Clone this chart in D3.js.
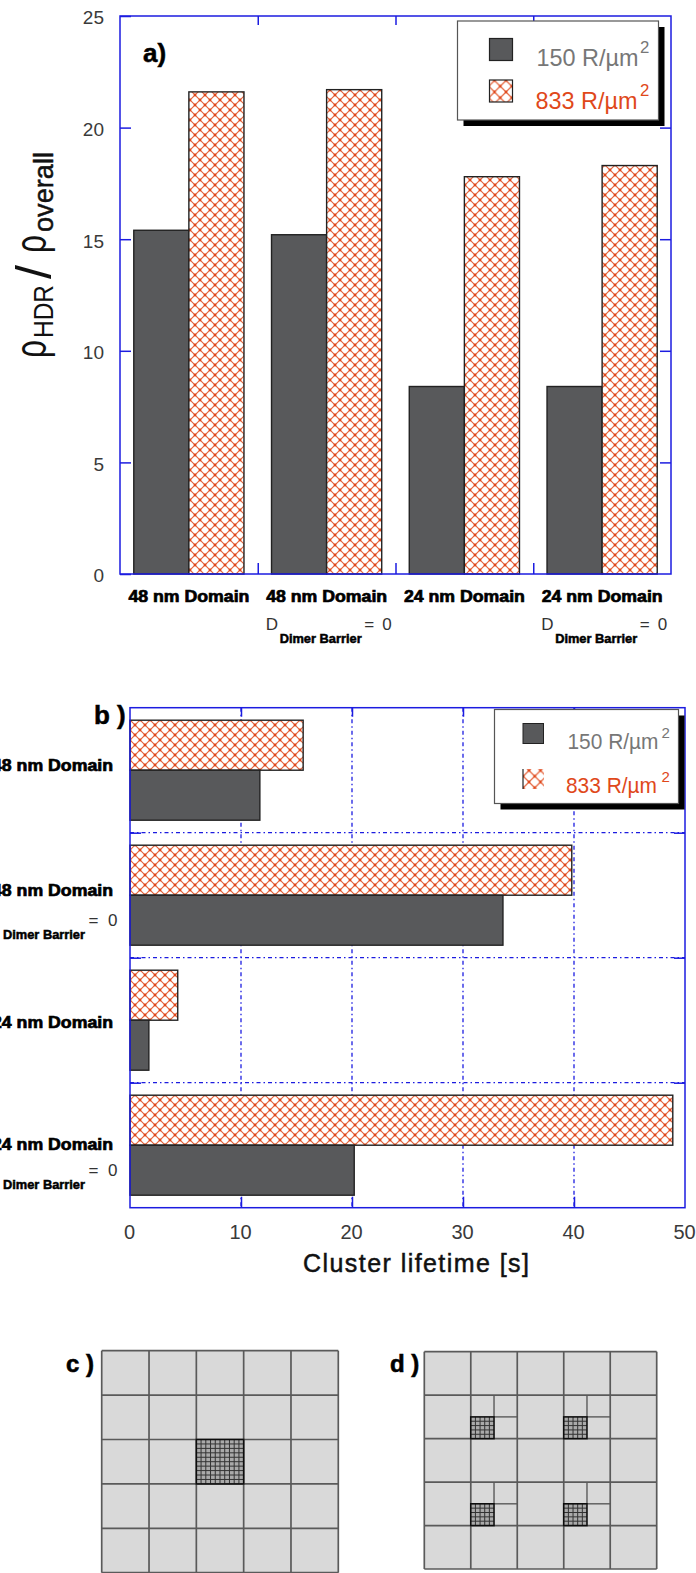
<!DOCTYPE html>
<html><head><meta charset="utf-8">
<script src="https://cdn.jsdelivr.net/npm/d3@7"></script>
<style>
html,body{margin:0;padding:0;background:#fff;overflow:hidden}
svg{display:block}
text{font-family:"Liberation Sans",Arial,sans-serif}
</style></head><body>
<div id="chart"></div>
<script>
// ---------- data ----------
const categories = ["48 nm Domain","48 nm Domain","24 nm Domain","24 nm Domain"];
const dimerFlags = [false,true,false,true];
const densityA150 = [15.4,15.2,8.4,8.4];
const densityA833 = [21.6,21.7,17.8,18.3];
const lifetime150 = [11.7,33.6,1.7,20.2];
const lifetime833 = [15.6,39.8,4.3,48.9];
const yTicksA = [0,5,10,15,20,25];
const xTicksB = [0,10,20,30,40,50];
const legendLabels = ["150 R/\u00b5m","833 R/\u00b5m"];
const labelShiftB = [0,0,7,4];
const fineCellsC = [[2,2]];
const fineCellsD = [[1,1],[3,1],[1,3],[3,3]];

// ---------- setup ----------
const W=696,H=1573;
const BLUE="#1c1ce0",DARK="#58595b",RED="#e0481a",INK="#222";
const svg=d3.select("#chart").append("svg").attr("width",W).attr("height",H).attr("viewBox",`0 0 ${W} ${H}`);
const defs=svg.append("defs");
function hatch(id,p){
  const pat=defs.append("pattern").attr("id",id).attr("patternUnits","userSpaceOnUse").attr("width",p).attr("height",p);
  pat.append("rect").attr("width",p).attr("height",p).attr("fill","#fff");
  pat.append("path").attr("d",`M0,0L${p},${p}M0,${p}L${p},0`).attr("stroke",RED).attr("stroke-width",1.2).attr("stroke-opacity",0.85).attr("fill","none");
  [[0,0],[p,0],[0,p],[p,p],[p/2,p/2]].forEach(c=>pat.append("circle").attr("cx",c[0]).attr("cy",c[1]).attr("r",1.4).attr("fill",RED));
}
hatch("hatch",10);
hatch("hatchL",11.5);
defs.append("filter").attr("id","soft").append("feGaussianBlur").attr("stdDeviation",0.5);

function styleAxis(g){
  g.select(".domain").remove();
  g.selectAll(".tick line").attr("stroke",BLUE).attr("stroke-width",1.5);
  g.selectAll(".tick text").attr("fill","#3a3a3a").attr("font-size",19).attr("font-family","Liberation Sans");
}
function legend(g,o){
  g.append("rect").attr("x",o.x+6).attr("y",o.y+6).attr("width",o.w).attr("height",o.h).attr("fill","#000");
  g.append("rect").attr("x",o.x).attr("y",o.y).attr("width",o.w).attr("height",o.h).attr("fill","#fff").attr("stroke","#555").attr("stroke-width",1.2);
  const t=(x,y,s,c,fs,tl)=>{const e=g.append("text").attr("x",x).attr("y",y).attr("fill",c).attr("font-size",fs).text(s);if(tl)e.attr("textLength",tl).attr("lengthAdjust","spacingAndGlyphs");return e;};
  t(o.tx[0],o.by[0],legendLabels[0],"#777",o.fs,o.tl);
  t(o.tx[1],o.by[1],legendLabels[1],RED,o.fs,o.tl);
  t(o.sx,o.by[0]-o.sup,"2","#777",o.fs*0.7);
  t(o.sx,o.by[1]-o.sup,"2",RED,o.fs*0.7);
}
function heavy(sel,w){return sel.attr("font-weight","bold").attr("fill","#000").attr("stroke","#000").attr("stroke-width",w);}

// ---------- panel a ----------
const aL=120,aR=671,aT=16,aB=574;
const a=svg.append("g");
const ya=d3.scaleLinear().domain([0,25]).range([aB,aT]);
const xa=d3.scaleBand().domain(d3.range(categories.length)).range([aL,aR]).paddingInner(0.2).paddingOuter(0.1);
const edgeA=d3.scaleLinear().domain([0,categories.length]).range([aL,aR]);
const sub=xa.bandwidth()/2;
a.selectAll(".d").data(densityA150).join("rect").attr("x",(d,i)=>xa(i)).attr("y",d=>ya(d)).attr("width",sub).attr("height",d=>aB-ya(d)).attr("fill",DARK).attr("stroke",INK).attr("stroke-width",1.4);
a.selectAll(".r").data(densityA833).join("rect").attr("x",(d,i)=>xa(i)+sub).attr("y",d=>ya(d)).attr("width",sub).attr("height",d=>aB-ya(d)).attr("fill","url(#hatch)").attr("stroke",INK).attr("stroke-width",1.4);
a.append("rect").attr("x",aL).attr("y",aT).attr("width",aR-aL).attr("height",aB-aT).attr("fill","none").attr("stroke",BLUE).attr("stroke-width",1.5);
a.append("g").attr("transform",`translate(${aL},0)`).call(d3.axisLeft(ya).tickValues(yTicksA).tickSize(-11).tickPadding(16)).call(styleAxis).selectAll(".tick text").attr("dy","0.42em");
a.append("g").attr("transform",`translate(${aR},0)`).call(d3.axisRight(ya).tickValues(yTicksA.slice(1,-1)).tickSize(-11).tickFormat("")).call(styleAxis);
a.append("g").attr("transform",`translate(0,${aT})`).call(d3.axisTop(edgeA).tickValues([1,2,3]).tickSize(-9).tickFormat("")).call(styleAxis);
a.append("g").attr("transform",`translate(0,${aB})`).call(d3.axisBottom(edgeA).tickValues([1,2,3]).tickSize(-11).tickFormat("")).call(styleAxis);
heavy(a.append("text").attr("x",143).attr("y",62).attr("font-size",26),0.5).text("a)");
categories.forEach((c,i)=>{
  const cx=xa(i)+xa.bandwidth()/2;
  heavy(a.append("text").attr("x",cx).attr("y",602).attr("text-anchor","middle").attr("font-size",16.5).attr("textLength",121).attr("lengthAdjust","spacingAndGlyphs"),0.7).text(c);
  if(dimerFlags[i]){
    a.append("text").attr("x",cx-61).attr("y",630).attr("font-size",17).attr("fill","#333").text("D");
    heavy(a.append("text").attr("x",cx-47).attr("y",643).attr("font-size",12.5).attr("textLength",82).attr("lengthAdjust","spacingAndGlyphs"),0.5).text("Dimer Barrier");
    a.append("text").attr("x",cx+37.5).attr("y",630).attr("font-size",17).attr("fill","#333").text("=");
    a.append("text").attr("x",cx+55.5).attr("y",630).attr("font-size",17).attr("fill","#333").text("0");
  }
});
// rotated y title, made of separately fitted pieces
function titlePiece(s,bx,sy,fs,len,sw){
  const e=a.append("text").attr("transform",`translate(${bx},${sy}) rotate(-90)`).attr("font-size",fs).attr("fill","#111").text(s);
  if(len) e.attr("textLength",len).attr("lengthAdjust","spacingAndGlyphs");
  if(sw) e.attr("stroke","#111").attr("stroke-width",sw);
}
titlePiece("\u03c1",46,358,44,18);
titlePiece("HDR",53,338,28,53);
titlePiece("/",51,279,50);
titlePiece("\u03c1",46,253,44,18);
titlePiece("overall",53,232,28,80,0.5);
legend(a,{x:457.5,y:21,w:201,h:99,tx:[536.5,535.5],by:[66,108.5],fs:24,tl:102,sx:640,sup:13});
a.append("rect").attr("x",489.5).attr("y",38.5).attr("width",23).attr("height",22).attr("fill",DARK).attr("stroke",INK).attr("stroke-width",1.2);
a.append("rect").attr("x",489.5).attr("y",80).attr("width",23).attr("height",22).attr("fill","url(#hatchL)").attr("stroke",INK).attr("stroke-width",1.2);

// ---------- panel b ----------
const bL=130,bR=685,bT=707.7,bB=1207.7;
const b=svg.append("g");
const xb=d3.scaleLinear().domain([0,50]).range([bL,bR]);
const yb=d3.scaleBand().domain(d3.range(categories.length)).range([bT,bB]).paddingInner(0.2).paddingOuter(0.1);
const edgeB=d3.scaleLinear().domain([0,categories.length]).range([bT,bB]);
const gv=xTicksB.slice(1,-1), gh=[1,2,3];
b.selectAll(".gv").data(gv).join("line").attr("x1",d=>xb(d)).attr("x2",d=>xb(d)).attr("y1",bT).attr("y2",bB).attr("stroke",BLUE).attr("stroke-width",1.3).attr("stroke-dasharray","4 3 1.5 3");
b.selectAll(".gh").data(gh).join("line").attr("x1",bL).attr("x2",bR).attr("y1",d=>edgeB(d)).attr("y2",d=>edgeB(d)).attr("stroke",BLUE).attr("stroke-width",1.3).attr("stroke-dasharray","4 3 1.5 3");
const subB=yb.bandwidth()/2;
b.selectAll(".r").data(lifetime833).join("rect").attr("x",bL).attr("y",(d,i)=>yb(i)).attr("width",d=>xb(d)-bL).attr("height",subB).attr("fill","url(#hatch)").attr("stroke",INK).attr("stroke-width",1.4);
b.selectAll(".d").data(lifetime150).join("rect").attr("x",bL).attr("y",(d,i)=>yb(i)+subB).attr("width",d=>xb(d)-bL).attr("height",subB).attr("fill",DARK).attr("stroke",INK).attr("stroke-width",1.4);
b.append("rect").attr("x",bL).attr("y",bT).attr("width",bR-bL).attr("height",bB-bT).attr("fill","none").attr("stroke",BLUE).attr("stroke-width",1.5);
const tb=b.append("g").attr("transform",`translate(0,${bB})`).call(d3.axisBottom(xb).tickValues(xTicksB).tickSize(0).tickPadding(17)).call(styleAxis);
tb.selectAll(".tick text").attr("font-size",20).attr("transform","translate(-1,0)");
b.append("g").attr("transform",`translate(0,${bB})`).call(d3.axisBottom(xb).tickValues(gv).tickSize(-11).tickFormat("")).call(styleAxis);
b.append("g").attr("transform",`translate(0,${bT})`).call(d3.axisTop(xb).tickValues(gv).tickSize(-9).tickFormat("")).call(styleAxis);
b.append("g").attr("transform",`translate(${bL},0)`).call(d3.axisLeft(edgeB).tickValues(gh).tickSize(-11).tickFormat("")).call(styleAxis);
b.append("g").attr("transform",`translate(${bR},0)`).call(d3.axisRight(edgeB).tickValues(gh).tickSize(-11).tickFormat("")).call(styleAxis);
heavy(b.append("text").attr("x",94).attr("y",724).attr("font-size",26),0.5).text("b )");
categories.forEach((c,i)=>{
  const cy=yb(i)+yb.bandwidth()/2;
  heavy(b.append("text").attr("x",113).attr("y",cy+1+labelShiftB[i]).attr("text-anchor","end").attr("font-size",16.5).attr("textLength",121).attr("lengthAdjust","spacingAndGlyphs"),0.7).text(c);
  if(dimerFlags[i]){
    heavy(b.append("text").attr("x",3).attr("y",cy+44).attr("font-size",12.5).attr("textLength",82).attr("lengthAdjust","spacingAndGlyphs"),0.5).text("Dimer Barrier");
    b.append("text").attr("x",88.5).attr("y",cy+31).attr("font-size",17).attr("fill","#333").text("=");
    b.append("text").attr("x",108).attr("y",cy+31).attr("font-size",17).attr("fill","#333").text("0");
  }
});
b.append("text").attr("x",303).attr("y",1272).attr("font-size",25).attr("fill","#111").attr("stroke","#111").attr("stroke-width",0.5).attr("textLength",226).text("Cluster lifetime [s]");
legend(b,{x:494.5,y:709.5,w:184,h:94,tx:[567.5,566],by:[749,793],fs:21.5,tl:91,sx:661.5,sup:11});
b.append("rect").attr("x",523).attr("y",723.5).attr("width",20.5).attr("height",20).attr("fill",DARK).attr("stroke",INK).attr("stroke-width",1);
b.append("rect").attr("x",523).attr("y",769).attr("width",21).attr("height",20).attr("fill","url(#hatchL)");
b.append("line").attr("x1",523).attr("x2",523).attr("y1",769).attr("y2",789).attr("stroke",INK).attr("stroke-width",1.2);

// ---------- panels c, d ----------
function mesh(g,o){
  const gs=g.append("g").attr("filter","url(#soft)");
  const x=d3.scaleLinear().domain([0,5]).range([o.l,o.r]);
  const y=d3.scaleLinear().domain([0,5]).range([o.t,o.b]);
  gs.append("rect").attr("x",o.l).attr("y",o.t).attr("width",o.r-o.l).attr("height",o.b-o.t).attr("fill","#d9d9d9");
  const n=d3.range(6);
  gs.selectAll(".v").data(n).join("line").attr("x1",x).attr("x2",x).attr("y1",o.t).attr("y2",o.b).attr("stroke","#5a5a5a").attr("stroke-width",1.7);
  gs.selectAll(".h").data(n).join("line").attr("y1",y).attr("y2",y).attr("x1",o.l).attr("x2",o.r).attr("stroke","#5a5a5a").attr("stroke-width",1.7);
  o.fine.forEach(([cx,cy])=>{
    if(o.split){
      const mx=cx+0.5,my=cy+0.5;
      gs.append("line").attr("x1",x(mx)).attr("x2",x(mx)).attr("y1",y(cy)).attr("y2",y(my)).attr("stroke","#5a5a5a").attr("stroke-width",1.4);
      gs.append("line").attr("x1",x(mx)).attr("x2",x(cx+1)).attr("y1",y(my)).attr("y2",y(my)).attr("stroke","#5a5a5a").attr("stroke-width",1.4);
    }
    const x0=x(cx),x1=x(cx+o.span),y0=y(cy+1-o.span),y1=y(cy+1);
    const ix=d3.scaleLinear().domain([0,o.div]).range([x0,x1]);
    const iy=d3.scaleLinear().domain([0,o.div]).range([y0,y1]);
    gs.append("rect").attr("x",x0).attr("y",y0).attr("width",x1-x0).attr("height",y1-y0).attr("fill","#aaa");
    d3.range(1,o.div).forEach(k=>{
      gs.append("line").attr("x1",ix(k)).attr("x2",ix(k)).attr("y1",y0).attr("y2",y1).attr("stroke","#333").attr("stroke-width",o.fw);
      gs.append("line").attr("y1",iy(k)).attr("y2",iy(k)).attr("x1",x0).attr("x2",x1).attr("stroke","#333").attr("stroke-width",o.fw);
    });
    gs.append("rect").attr("x",x0).attr("y",y0).attr("width",x1-x0).attr("height",y1-y0).attr("fill","none").attr("stroke","#111").attr("stroke-width",1.6);
  });
}
const c=svg.append("g");
mesh(c,{l:101.7,r:338.3,t:1350.7,b:1572.7,fine:fineCellsC,span:1,div:10,fw:1,split:false});
heavy(c.append("text").attr("x",66).attr("y",1372).attr("font-size",24),0.6).text("c )");
const dp=svg.append("g");
mesh(dp,{l:424.3,r:656.7,t:1351.7,b:1569,fine:fineCellsD,span:0.5,div:5,fw:1,split:true});
heavy(dp.append("text").attr("x",390).attr("y",1372).attr("font-size",24),0.6).text("d )");
</script>
</body></html>
